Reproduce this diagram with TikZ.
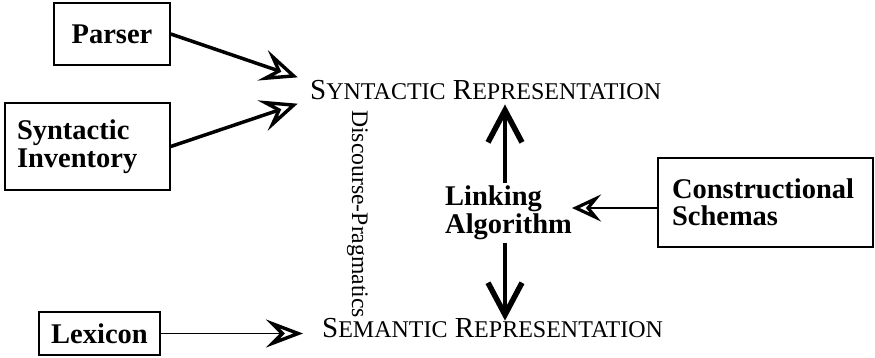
\documentclass[tikz,border=0pt]{standalone}
\usepackage{fontspec}
\setmainfont{Liberation Serif}
\usetikzlibrary{arrows.meta}
\newcommand{\FakeSC}[2]{{\fontsize{29}{29}\selectfont #1}{\fontsize{24}{24}\selectfont #2}}
\begin{document}
\begin{tikzpicture}[x=1pt,y=-1pt,
  box/.style={draw, line width=1.6pt, inner ysep=0pt},
  lbl/.style={font=\fontsize{28.5}{27.5}\selectfont\bfseries},
  rep/.style={inner sep=0pt, anchor=base west, font=\fontsize{29}{29}\selectfont},
  fatarrow/.style={line width=3.5pt, -{Stealth[open, length=37pt, width=32pt, inset=15pt, line width=3.4pt]}},
  thinarrow/.style={line width=1.8pt, -{Stealth[open, length=37pt, width=28pt, inset=14pt, line width=3.4pt]}},
  midarrow/.style={line width=1.8pt, -{Stealth[open, length=29pt, width=27pt, inset=11pt, line width=3.2pt]}},
  barbarrow/.style={line width=4.5pt, -{Straight Barb[length=32pt, width=34pt, line width=5.5pt]}}
]
\useasboundingbox (0,0) rectangle (875,358);

% boxes
\node[box, lbl, minimum width=116pt, minimum height=62pt] (parser) at (112,34) {Parser};
\node[box, lbl, align=left, text width=141pt, inner xsep=12pt, minimum height=87pt] (inv) at (87.5,146.5) {Syntactic\\Inventory};
\node[box, lbl, minimum width=121pt, minimum height=43pt] (lex) at (99.5,333.5) {Lexicon};
\node[box, lbl, align=left, text width=187pt, inner xsep=14pt, minimum height=89pt] (cons) at (765.5,202.5) {Constructional\\Schemas};

% representations
\node[rep] (syn) at (310,100) {\FakeSC{S}{YNTACTIC} \FakeSC{R}{EPRESENTATION}};
\node[rep] (sem) at (322,337) {\FakeSC{S}{EMANTIC} \FakeSC{R}{EPRESENTATION}};

% discourse-pragmatics
\node[rotate=-90, anchor=base west, inner sep=0pt, font=\fontsize{23.7}{23.7}\selectfont] (dp) at (352,110) {Discourse-Pragmatics};

% linking algorithm
\node[lbl, align=left, anchor=west, inner sep=0pt] (link) at (445,213) {Linking\\Algorithm};

% connectors
\draw[fatarrow, shorten >=13pt] (parser.east) -- ([yshift=9pt]syn.west);
\draw[fatarrow, shorten >=13pt] (inv.east) -- ([yshift=-9pt]syn.west);
\draw[thinarrow, shorten >=19pt] (lex.east) -- (lex.east -| sem.west);
\draw[midarrow] ([yshift=-5.5pt]cons.west) -- ([yshift=-5.5pt]cons.west -| link.east);
\draw[barbarrow, shorten <=3pt, shorten >=4pt] (link.north -| 505,0) -- (syn.south -| 505,0);
\draw[barbarrow, shorten <=3pt, shorten >=-3pt] (link.south -| 505,0) -- (sem.north -| 505,0);
\end{tikzpicture}
\end{document}
